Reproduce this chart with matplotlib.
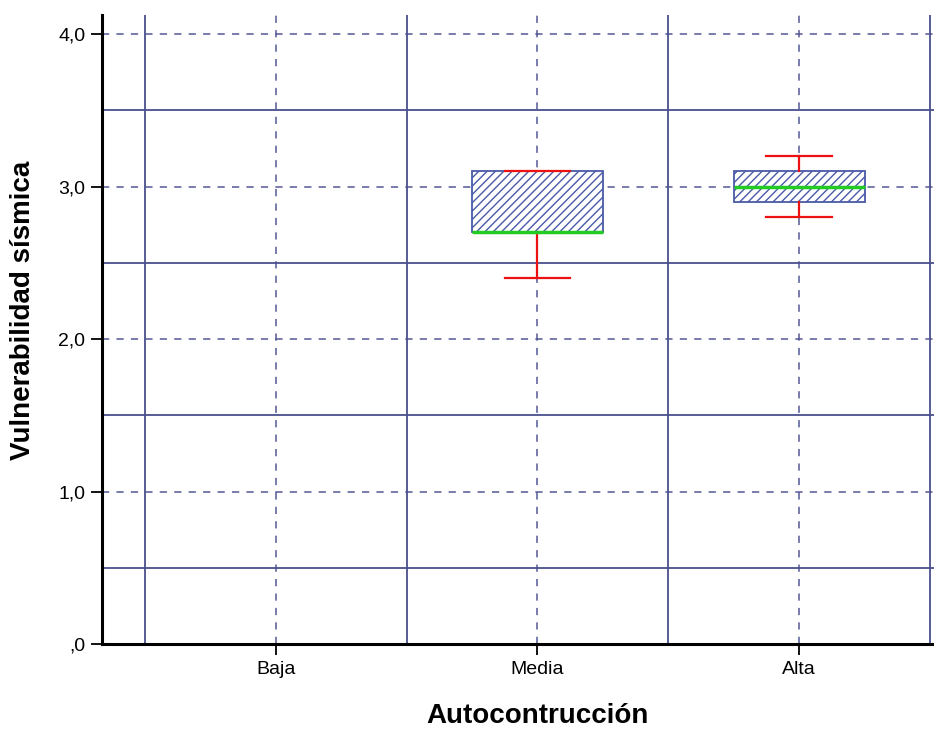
import matplotlib.pyplot as plt
import matplotlib as mpl

# datos
categorias = ["Baja", "Media", "Alta"]
q1 = [None, 2.7, 2.9]
mediana = [None, 2.7, 3.0]
q3 = [None, 3.1, 3.1]
bigote_inf = [None, 2.4, 2.8]
bigote_sup = [None, 3.1, 3.2]
yticks = [0, 1, 2, 3, 4]
yticklabels = [",0", "1,0", "2,0", "3,0", "4,0"]

mpl.rcParams['font.family'] = ['Liberation Sans', 'DejaVu Sans']
mpl.rcParams['hatch.color'] = '#4a5aa8'
mpl.rcParams['hatch.linewidth'] = 1.0

fig = plt.figure(figsize=(9.34, 7.31), dpi=100)
ax = fig.add_axes([0.1092, 0.119, 0.8908, 0.8605])

grid_col = '#4b4f8f'
# lineas de cuadricula
for y in [0.5, 1.5, 2.5, 3.5]:
    ax.axhline(y, color=grid_col, lw=1.3, zorder=1)
for y in [1, 2, 3, 4]:
    ax.axhline(y, color=grid_col, lw=1.3, ls=(0, (4, 4)), zorder=1, alpha=0.8)
for x in [-0.5, 0.5, 1.5, 2.5]:
    ax.axvline(x, color=grid_col, lw=1.3, zorder=1)
for x in range(len(categorias)):
    ax.axvline(x, color=grid_col, lw=1.3, ls=(0, (4, 4)), zorder=1, alpha=0.8)

stats = []
pos = []
for i in range(len(categorias)):
    if q1[i] is None:
        continue
    stats.append(dict(med=mediana[i], q1=q1[i], q3=q3[i],
                      whislo=bigote_inf[i], whishi=bigote_sup[i], fliers=[]))
    pos.append(i)

ax.bxp(stats, positions=pos, widths=0.5, patch_artist=True, showfliers=False,
       boxprops=dict(facecolor='white', edgecolor='#4a5aa8', hatch='////', lw=1.3),
       medianprops=dict(color='#22cc22', lw=2.5),
       whiskerprops=dict(color='#ee1111', lw=1.6),
       capprops=dict(color='#ee1111', lw=1.6),
       capwidths=0.25, zorder=3)

ax.set_xlim(-0.664, 2.515)
ax.set_ylim(0, 4.125)
ax.set_xticks(range(len(categorias)))
ax.set_xticklabels(categorias, fontsize=14)
ax.set_yticks(yticks)
ax.set_yticklabels(yticklabels, fontsize=14)
ax.tick_params(direction='out', length=8, width=1.3, colors='black', pad=4)

for s in ['top', 'right']:
    ax.spines[s].set_visible(False)
for s in ['left', 'bottom']:
    ax.spines[s].set_linewidth(2.2)
    ax.spines[s].set_color('black')

ax.set_xlabel("Autocontrucción", fontsize=20, fontweight='bold')
ax.set_ylabel("Vulnerabilidad sísmica", fontsize=20, fontweight='bold')
ax.xaxis.set_label_coords(0.524, -0.094)
ax.yaxis.set_label_coords(-0.079, 0.53)

fig.savefig("out.png", dpi=100)
